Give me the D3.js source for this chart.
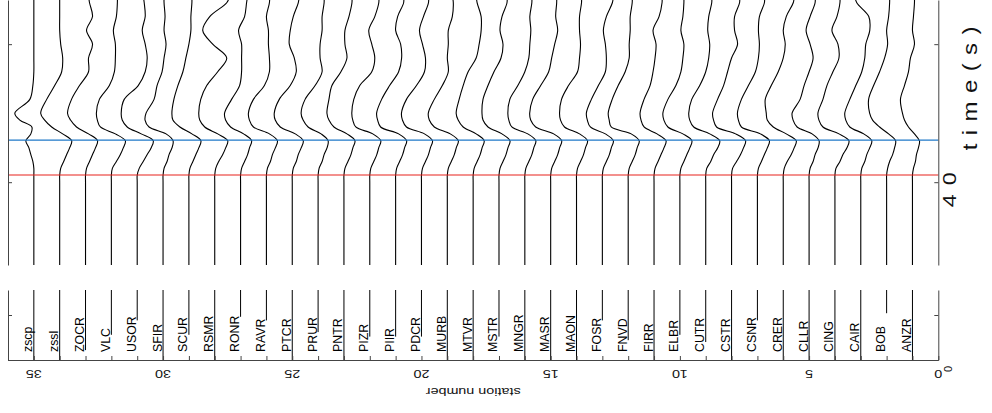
<!DOCTYPE html>
<html><head><meta charset="utf-8">
<script src="https://cdn.jsdelivr.net/npm/d3@7"></script>
<style>body{margin:0;background:#fff;}svg{display:block;font-family:"Liberation Sans",Arial,Helvetica,sans-serif;}</style>
</head><body>
<svg id="chart" width="992" height="413"></svg>
<script>
// ---- data ----
const stationNames = ["ANZR","BOB","CAIR","CING","CLLR","CRER","CSNR","CSTR","CUTR","ELBR","FIRR","FNVD","FOSR","MAON","MASR","MNGR","MSTR","MTVR","MURB","PDCR","PIIR","PIZR","PNTR","PRUR","PTCR","RAVR","RONR","RSMR","SCUR","SFIR","USOR","VLC","ZOCR","zssl","zscp"];
const stationNumbers = [1,2,3,4,5,6,7,8,9,10,11,12,13,14,15,16,17,18,19,20,21,22,23,24,25,26,27,28,29,30,31,32,33,34,35];
// sample times (s) of the late window
const traceTimes = [34,40,40.5,41,41.5,42,42.5,43,43.5,44,44.5,45,46,47,48,49,50,51,52,53,53.5];
// amplitudes (counts) per station at traceTimes
const traceAmps = [
 [0,0,0,1,3,4,6,7,2,-4,-8,-10,-12,-8,-4,-2,2,0,1,2,2],
 [0,0,0,1,3,6,8,9,2,-7,-14,-17,-18,-13,-7,-2,1,0,2,3,3],
 [0,0,0,1,4,6,9,11,3,-11,-15,-16,-11,-5,1,4,5,9,8,-4,-6],
 [0,0,0,1,5,8,12,14,4,-12,-16,-17,-12,-8,-2,4,3,-3,2,5,5],
 [0,0,0,1,4,6,9,10,3,-12,-16,-17,-9,-5,0,4,1,-3,1,6,6],
 [0,0,0,1,4,8,11,13,3,-10,-16,-17,-18,-12,-5,0,2,0,3,10,11],
 [0,0,0,1,4,7,10,12,3,-16,-19,-20,-16,-9,-2,1,2,1,2,7,7],
 [0,0,0,1,5,9,12,14,4,-15,-18,-19,-14,-8,-4,0,6,3,3,8,8],
 [0,0,0,1,5,8,12,14,4,-12,-16,-17,-14,-6,0,3,4,2,3,6,6],
 [0,0,0,1,4,7,10,12,3,-12,-16,-17,-12,-4,1,3,4,1,3,4,4],
 [0,0,0,1,4,7,10,12,3,-10,-13,-14,-10,-4,-1,1,2,-1,5,8,8],
 [0,0,0,1,4,7,9,11,3,-17,-19,-20,-16,-10,-3,1,1,2,2,4,4],
 [0,0,0,1,4,7,9,11,3,-12,-15,-16,-11,-4,3,4,3,1,4,10,11],
 [0,0,0,1,4,7,9,11,3,-12,-16,-17,-15,-8,1,3,4,3,3,5,5],
 [0,0,0,1,4,7,9,11,3,-15,-20,-21,-18,-10,-2,1,4,7,5,6,6],
 [0,0,0,1,4,7,9,11,3,-13,-16,-17,-15,-7,0,4,5,6,5,7,7],
 [0,0,0,1,4,7,9,11,3,-11,-16,-17,-16,-11,-5,2,4,1,3,8,8],
 [0,0,0,1,4,7,9,11,3,-10,-15,-17,-14,-10,-5,3,6,8,8,4,3],
 [0,0,0,1,4,7,9,11,3,-13,-18,-19,-13,-5,1,0,1,1,5,6,5],
 [0,0,0,1,4,7,9,11,3,-15,-19,-20,-15,-5,3,4,1,-2,2,7,7],
 [0,0,0,1,4,7,9,11,3,-15,-18,-19,-14,-6,3,6,5,0,2,8,8],
 [0,0,0,1,4,7,9,11,3,-14,-17,-18,-16,-10,2,5,2,-1,5,9,9],
 [0,0,0,1,4,7,9,11,3,-10,-15,-17,-15,-12,-3,3,1,1,5,8,8],
 [0,0,0,1,4,6,9,10,3,-10,-15,-17,-13,-3,4,2,2,4,4,6,6],
 [0,0,0,1,4,6,9,11,3,-12,-17,-18,-13,-2,4,2,-3,-2,1,6,7],
 [0,0,0,1,4,6,9,11,3,-13,-17,-18,-13,-2,3,3,2,2,0,3,3],
 [0,0,0,1,4,7,9,11,3,-10,-15,-16,-9,-1,1,1,1,-2,4,6,7],
 [0,0,0,1,4,8,11,13,3,-10,-15,-16,-14,-8,3,12,-2,-12,-5,12,15],
 [0,0,0,1,4,7,10,12,3,-9,-16,-17,-15,-11,-6,-3,0,2,2,3,3],
 [0,0,0,1,4,6,9,10,3,-14,-18,-17,-9,-6,-1,1,3,1,2,1,1],
 [0,0,0,2,6,10,14,16,4,-10,-15,-16,-13,1,8,10,8,5,8,7,6],
 [0,0,0,1,5,9,12,14,4,-11,-14,-15,-12,-2,3,4,4,2,5,6,6],
 [0,0,0,1,4,7,10,12,3,-9,-15,-18,-14,-6,3,3,7,1,7,4,3],
 [0,0,0,1,4,7,10,12,3,-8,-15,-19,-13,-5,2,3,1,0,0,0,0],
 [0,0,0,0,-1,-3,-5,-8,-3,-2,-14,-19,-4,-1,0,0,0,0,0,0,0]
];
// record start time (s) in the early window, per station
const recordStart = [0,5.2,0,0,0,0,4.4,0,2.0,2.8,0,2.2,4.4,0,0,0,2.6,0,0,2.6,2.6,2.6,0,3.1,0,4.4,4.8,0,2.8,0,4.4,2.8,1.1,0,0];
const labelTime = 0.89;
const redPickTime = 40.52;
const bluePickTime = 43.05;
const stationTickValues = [0,1,2,3,4,5,6,7,8,9,10,11,12,13,14,15,16,17,18,19,20,21,22,23,24,25,26,27,28,29,30,31,32,33,34,35];
const stationTickLabels = [0,5,10,15,20,25,30,35];
const topTimeTicks = [40,50];
const topTimeLabels = ["40",""];
const botTimeTicks = [0,5];
const botTimeLabels = ["0",""];
const gain = 0.0387; // station units per count

// ---- drawing ----
const svg = d3.select("#chart");
const x = d3.scaleLinear().domain([36,0]).range([8,938.3]);
const yTop = d3.scaleLinear().domain([34,53.2]).range([265,0]);
const yBot = d3.scaleLinear().domain([0,7.78]).range([360,290]);
const axisColor = "#444";

const line = d3.line().curve(d3.curveCatmullRom.alpha(0.5));
const traces = svg.append("g");
stationNumbers.forEach((s,i)=>{
  const pts = traceTimes.map((t,k)=>[x(s - traceAmps[i][k]*gain), yTop(t)]);
  traces.append("path").attr("d", line(pts)).attr("fill","none").attr("stroke","#000").attr("stroke-width",1.1);
  traces.append("line").attr("x1",x(s)).attr("x2",x(s))
    .attr("y1",yBot(recordStart[i])).attr("y2",yBot(7.78))
    .attr("stroke","#000").attr("stroke-width",1);
  svg.append("text").attr("transform",`translate(${x(s)-1.5},${yBot(labelTime)}) rotate(-90) scale(0.95,1)`)
    .attr("font-size",13).attr("fill","#000").text(stationNames[i]);
});

// pick lines
svg.append("line").attr("x1",x(36)).attr("x2",x(0)).attr("y1",yTop(redPickTime)).attr("y2",yTop(redPickTime))
  .attr("stroke","#e8231c").attr("stroke-width",1.2);
svg.append("line").attr("x1",x(36)).attr("x2",x(0)).attr("y1",yTop(bluePickTime)).attr("y2",yTop(bluePickTime))
  .attr("stroke","#1f78c8").attr("stroke-width",1.2);

function styleAxis(g){ g.attr("color",axisColor); g.selectAll("text").remove(); }
svg.append("g").attr("transform",`translate(${x(36)},0)`)
  .call(d3.axisLeft(yTop).tickValues(topTimeTicks).tickSizeInner(-4).tickSizeOuter(0)).call(styleAxis);
svg.append("g").attr("transform",`translate(${x(0)},0)`)
  .call(d3.axisRight(yTop).tickValues(topTimeTicks).tickSizeInner(-4).tickSizeOuter(0)).call(styleAxis);
svg.append("g").attr("transform",`translate(${x(36)},0)`)
  .call(d3.axisLeft(yBot).tickValues(botTimeTicks).tickSizeInner(-4).tickSizeOuter(0)).call(styleAxis);
svg.append("g").attr("transform",`translate(${x(0)},0)`)
  .call(d3.axisRight(yBot).tickValues(botTimeTicks).tickSizeInner(-4).tickSizeOuter(0)).call(styleAxis);
svg.append("g").attr("transform",`translate(0,${yBot(0)})`)
  .call(d3.axisBottom(x).tickValues(stationTickValues).tickSizeInner(-4).tickSizeOuter(0)).call(styleAxis);

// station tick labels (upside down, stretched)
stationTickLabels.forEach(v=>{
  svg.append("text").attr("transform",`translate(${x(v)},369.5) rotate(180) scale(1.25,1)`)
    .attr("text-anchor","middle").attr("font-size",11.5).attr("fill","#111").text(v);
});
svg.append("text").attr("transform",`translate(${(x(36)+x(0))/2},388) rotate(180) scale(1.25,1)`)
  .attr("text-anchor","middle").attr("font-size",11.5).attr("fill","#111").text("station number");

// time tick labels
topTimeTicks.forEach((v,k)=>{
  if(!topTimeLabels[k]) return;
  svg.append("text").attr("transform",`translate(956,${yTop(v)+3}) rotate(-90) scale(1.3,1)`)
    .attr("text-anchor","middle").attr("font-size",18).attr("letter-spacing",7).attr("fill","#111").text(topTimeLabels[k]);
});
botTimeTicks.forEach((v,k)=>{
  if(!botTimeLabels[k]) return;
  svg.append("text").attr("transform",`translate(952,${yBot(v)+9}) rotate(-90)`)
    .attr("text-anchor","middle").attr("font-size",11).attr("fill","#111").text(botTimeLabels[k]);
});
svg.append("text").attr("transform",`translate(977,${yTop(47.1)}) rotate(-90) scale(1.2,1)`)
  .attr("text-anchor","middle").attr("font-size",20).attr("letter-spacing",7).attr("fill","#111").text("time(s)");
</script>
</body></html>
